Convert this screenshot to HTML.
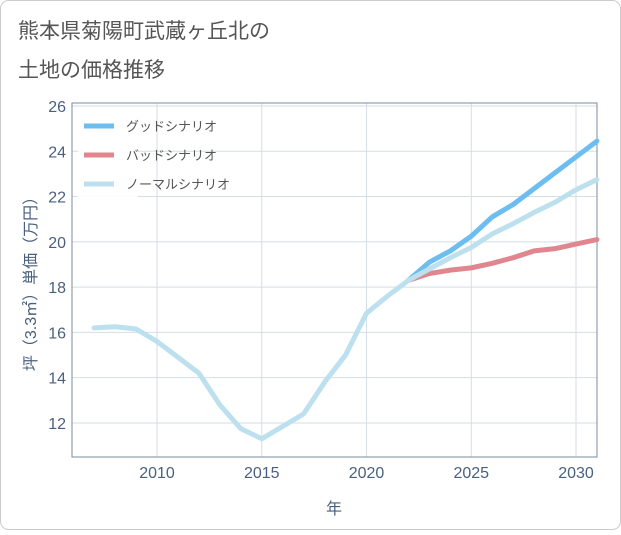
<!DOCTYPE html>
<html><head><meta charset="utf-8"><style>
body{margin:0;background:#fff;}
svg text{font-family:"Liberation Sans","Noto Sans CJK JP",sans-serif;}
</style></head><body>
<svg id="s" width="621" height="530" viewBox="0 0 621 530" xmlns="http://www.w3.org/2000/svg">
<rect x="0.5" y="0.5" width="620" height="529" rx="8" fill="#fff" stroke="#ccc"/>
<text x="18" y="38" font-size="21" fill="#555">熊本県菊陽町武蔵ヶ丘北の</text>
<text x="18" y="77" font-size="21" fill="#555">土地の価格推移</text>
<g id="grid"></g>
<rect x="72" y="103" width="525" height="354" fill="none" stroke="#7a8da0" stroke-width="1"/>
<g id="lines" fill="none" stroke-linecap="round" stroke-linejoin="round"></g>
<rect x="78" y="110" width="60" height="92" fill="#fff" opacity="0.9"/>
<line x1="84" y1="126" x2="114" y2="126" stroke="#6cbdf0" stroke-width="5"/>
<text x="126" y="131" font-size="13" fill="#555">グッドシナリオ</text>
<line x1="84" y1="155" x2="114" y2="155" stroke="#e0868e" stroke-width="5"/>
<text x="126" y="160" font-size="13" fill="#555">バッドシナリオ</text>
<line x1="84" y1="184" x2="114" y2="184" stroke="#bde0ee" stroke-width="5"/>
<text x="126" y="189" font-size="13" fill="#555">ノーマルシナリオ</text>
<text x="334" y="514" font-size="16" fill="#4a6080" text-anchor="middle">年</text>
<text transform="translate(36,280) rotate(-90)" font-size="16" fill="#4a6080" text-anchor="middle">坪（3.3㎡）単価（万円）</text>
</svg>
<script>
var X=y=>157+(y-2010)*20.95, Y=v=>106+(26-v)*22.64;
var g=document.getElementById('grid'),h='';
for(var v=12;v<=26;v+=2){h+='<line x1="72" x2="597" y1="'+Y(v)+'" y2="'+Y(v)+'" stroke="#d5dde5"/>';
h+='<text x="66" y="'+(Y(v)+6)+'" font-size="16" fill="#4a6080" text-anchor="end">'+v+'</text>';}
for(var yr=2010;yr<=2030;yr+=5){h+='<line y1="103" y2="457" x1="'+X(yr)+'" x2="'+X(yr)+'" stroke="#d5dde5"/>';
h+='<text y="478" x="'+X(yr)+'" font-size="16" fill="#4a6080" text-anchor="middle">'+yr+'</text>';}
g.innerHTML=h;
function pl(s,d,c){var p=d.map((v,i)=>X(s+i)+','+Y(v)).join(' ');return '<polyline points="'+p+'" stroke="'+c+'" stroke-width="5"/>';}
var n=[16.2,16.25,16.15,15.6,14.9,14.2,12.8,11.75,11.3,11.85,12.4,13.8,15.0,16.85,17.6,18.3,18.8,19.3,19.75,20.35,20.8,21.3,21.75,22.3,22.75];
var gd=[18.3,19.1,19.6,20.25,21.1,21.65,22.35,23.05,23.75,24.45];
var bd=[18.3,18.6,18.75,18.85,19.05,19.3,19.6,19.7,19.9,20.1];
document.getElementById('lines').innerHTML=pl(2022,gd,'#6cbdf0')+pl(2022,bd,'#e0868e')+pl(2007,n,'#bde0ee');
</script>
</body></html>
